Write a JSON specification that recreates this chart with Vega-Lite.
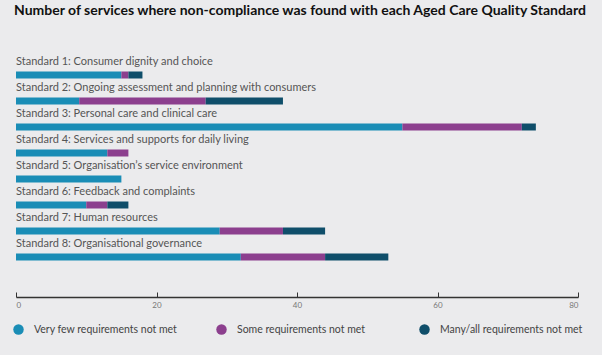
{
  "$schema": "https://vega.github.io/schema/vega-lite/v6.json",
  "width": 562,
  "height": 208,
  "autosize": "none",
  "padding": {"left": 16, "top": 62, "right": 24, "bottom": 85},
  "background": "#ebebed",
  "title": {
    "text": "Number of services where non-compliance was found with each Aged Care Quality Standard",
    "anchor": "start",
    "frame": "group",
    "font": "Lato",
    "fontWeight": "bold",
    "fontSize": 14,
    "color": "#111111",
    "offset": 38,
    "dx": -2
  },
  "config": {"view": {"stroke": null}, "font": "Lato"},
  "datasets": {
    "bars": [
      {"standard": "Standard 1: Consumer dignity and choice", "level": "Very few requirements not met", "ord": 1, "value": 15},
      {"standard": "Standard 1: Consumer dignity and choice", "level": "Some requirements not met", "ord": 2, "value": 1},
      {"standard": "Standard 1: Consumer dignity and choice", "level": "Many/all requirements not met", "ord": 3, "value": 2},
      {"standard": "Standard 2: Ongoing assessment and planning with consumers", "level": "Very few requirements not met", "ord": 1, "value": 9},
      {"standard": "Standard 2: Ongoing assessment and planning with consumers", "level": "Some requirements not met", "ord": 2, "value": 18},
      {"standard": "Standard 2: Ongoing assessment and planning with consumers", "level": "Many/all requirements not met", "ord": 3, "value": 11},
      {"standard": "Standard 3: Personal care and clinical care", "level": "Very few requirements not met", "ord": 1, "value": 55},
      {"standard": "Standard 3: Personal care and clinical care", "level": "Some requirements not met", "ord": 2, "value": 17},
      {"standard": "Standard 3: Personal care and clinical care", "level": "Many/all requirements not met", "ord": 3, "value": 2},
      {"standard": "Standard 4: Services and supports for daily living", "level": "Very few requirements not met", "ord": 1, "value": 13},
      {"standard": "Standard 4: Services and supports for daily living", "level": "Some requirements not met", "ord": 2, "value": 3},
      {"standard": "Standard 5: Organisation’s service environment", "level": "Very few requirements not met", "ord": 1, "value": 15},
      {"standard": "Standard 6: Feedback and complaints", "level": "Very few requirements not met", "ord": 1, "value": 10},
      {"standard": "Standard 6: Feedback and complaints", "level": "Some requirements not met", "ord": 2, "value": 3},
      {"standard": "Standard 6: Feedback and complaints", "level": "Many/all requirements not met", "ord": 3, "value": 3},
      {"standard": "Standard 7: Human resources", "level": "Very few requirements not met", "ord": 1, "value": 29},
      {"standard": "Standard 7: Human resources", "level": "Some requirements not met", "ord": 2, "value": 9},
      {"standard": "Standard 7: Human resources", "level": "Many/all requirements not met", "ord": 3, "value": 6},
      {"standard": "Standard 8: Organisational governance", "level": "Very few requirements not met", "ord": 1, "value": 32},
      {"standard": "Standard 8: Organisational governance", "level": "Some requirements not met", "ord": 2, "value": 12},
      {"standard": "Standard 8: Organisational governance", "level": "Many/all requirements not met", "ord": 3, "value": 9}
    ],
    "labels": [
      {"standard": "Standard 1: Consumer dignity and choice"},
      {"standard": "Standard 2: Ongoing assessment and planning with consumers"},
      {"standard": "Standard 3: Personal care and clinical care"},
      {"standard": "Standard 4: Services and supports for daily living"},
      {"standard": "Standard 5: Organisation’s service environment"},
      {"standard": "Standard 6: Feedback and complaints"},
      {"standard": "Standard 7: Human resources"},
      {"standard": "Standard 8: Organisational governance"}
    ]
  },
  "layer": [
    {
      "data": {"name": "bars"},
      "mark": {"type": "bar", "size": 7},
      "encoding": {
        "y": {"field": "standard", "type": "nominal", "sort": null, "axis": null,
              "scale": {"paddingInner": 0, "paddingOuter": 0}},
        "x": {"field": "value", "type": "quantitative", "stack": true,
              "scale": {"domain": [0, 80]},
              "axis": {"title": null, "values": [0, 20, 40, 60, 80], "offset": 27, "grid": false,
                       "domainColor": "#333333", "domainWidth": 1.5, "tickColor": "#333333",
                       "tickSize": -5, "labelPadding": 9, "labelFontSize": 8, "labelColor": "#777777"}},
        "color": {"field": "level", "type": "nominal",
                  "scale": {"domain": ["Very few requirements not met", "Some requirements not met", "Many/all requirements not met"],
                            "range": ["#1a8db6", "#8c3f8e", "#0f4e6a"]},
                  "legend": {"title": null, "orient": "none", "legendX": -3, "legendY": 262,
                             "direction": "horizontal", "columns": 3, "gridAlign": "all",
                             "symbolType": "circle", "symbolSize": 110, "symbolStrokeWidth": 0,
                             "labelFontSize": 10.5, "labelColor": "#444444", "labelOffset": 10,
                             "columnPadding": 38, "labelLimit": 200}},
        "order": {"field": "ord", "type": "quantitative"}
      }
    },
    {
      "data": {"name": "labels"},
      "mark": {"type": "text", "align": "left", "baseline": "middle", "dy": -13, "fontSize": 11, "color": "#555555"},
      "encoding": {
        "x": {"datum": 0},
        "y": {"field": "standard", "type": "nominal", "sort": null},
        "text": {"field": "standard"}
      }
    }
  ]
}
